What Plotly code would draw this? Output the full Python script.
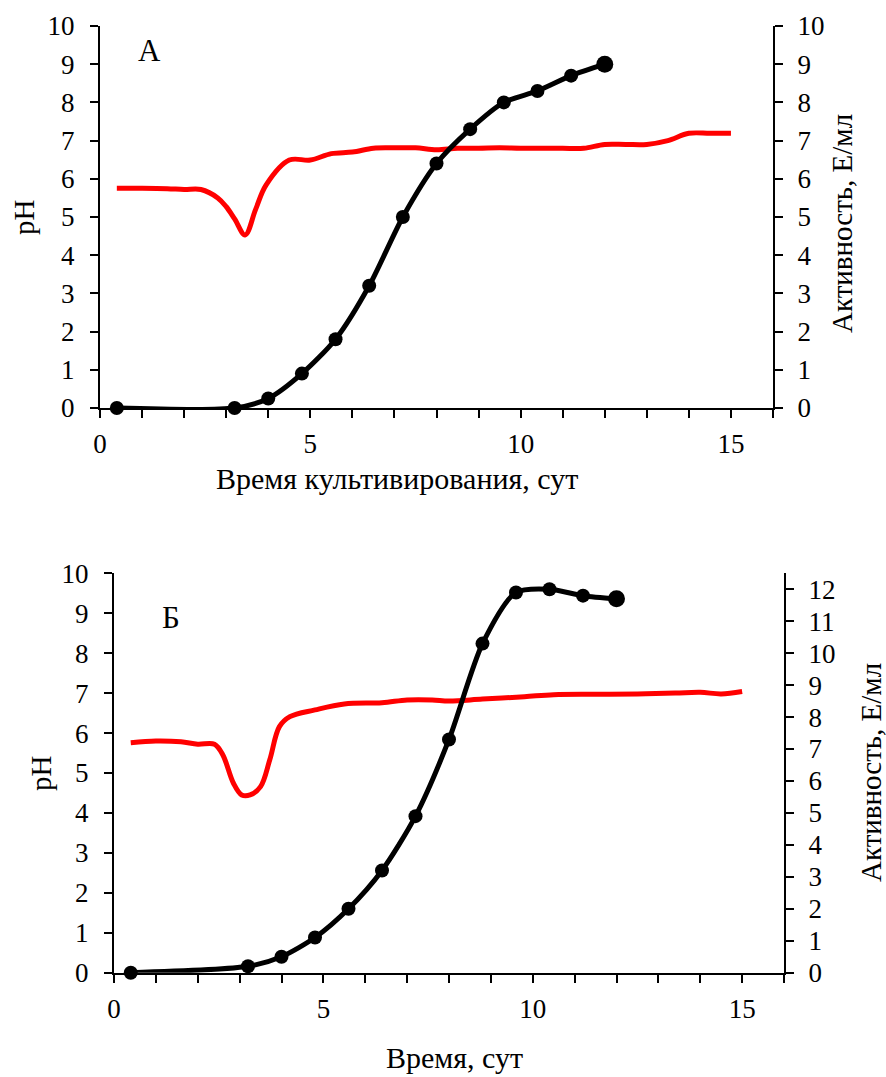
import plotly.graph_objects as go

# ---- Panel A data ----
act_a_x = [0.4, 3.2, 4.0, 4.8, 5.6, 6.4, 7.2, 8.0, 8.8, 9.6, 10.4, 11.2, 12.0]
act_a = [0.0, 0.0, 0.25, 0.9, 1.8, 3.2, 5.0, 6.4, 7.3, 8.0, 8.3, 8.7, 9.0]

ph_a_x = [0.4, 1.0, 1.6, 2.0, 2.4, 2.8, 3.0, 3.2, 3.45, 3.7, 3.95, 4.5, 5.0, 5.5,
          6.0, 6.5, 7.0, 7.5, 8.0, 8.5, 9.0, 9.5, 10.0, 10.5, 11.0, 11.5, 12.0,
          12.5, 13.0, 13.5, 14.0, 14.5, 15.0]
ph_a = [5.75, 5.75, 5.74, 5.72, 5.72, 5.5, 5.27, 4.95, 4.53, 5.2, 5.84, 6.49, 6.49, 6.66,
        6.7, 6.8, 6.81, 6.81, 6.76, 6.8, 6.8, 6.81, 6.8, 6.8, 6.8, 6.8, 6.9,
        6.9, 6.9, 7.0, 7.19, 7.19, 7.19]

# ---- Panel Б data ----
act_b_x = [0.4, 3.2, 4.0, 4.8, 5.6, 6.4, 7.2, 8.0, 8.8, 9.6, 10.4, 11.2, 12.0]
act_b = [0.0, 0.2, 0.5, 1.1, 2.0, 3.2, 4.9, 7.3, 10.3, 11.9, 12.0, 11.8, 11.7]

ph_b_x = [0.4, 1.0, 1.6, 2.0, 2.4, 2.6, 2.85, 3.05, 3.25, 3.5, 3.72, 3.95, 4.2, 4.8,
          5.5, 6.4, 7.0, 7.6, 8.0, 8.8, 9.8, 10.5, 11.5, 12.5, 13.4, 14.0, 14.5, 15.0]
ph_b = [5.76, 5.8, 5.78, 5.72, 5.72, 5.45, 4.75, 4.45, 4.45, 4.66, 5.33, 6.16, 6.41, 6.58,
        6.73, 6.76, 6.83, 6.83, 6.8, 6.85, 6.91, 6.96, 6.97, 6.98, 7.0, 7.02, 6.98, 7.04]

x_ticks = [0, 5, 10, 15]
ph_ticks = list(range(0, 11))
act_a_ticks = list(range(0, 11))
act_b_ticks = list(range(0, 13))

FONT = "Liberation Serif"
W, H = 886, 1077

fig = go.Figure()

red = dict(color="#ff0000", width=5, shape="spline", smoothing=1.0)
blk = dict(color="#000000", width=5, shape="spline", smoothing=0.75)


def marker(n):
    return dict(color="black", opacity=1, line=dict(width=0),
                size=[14] * (n - 1) + [17])


fig.add_trace(go.Scatter(x=ph_a_x, y=ph_a, mode="lines", line=red, xaxis="x", yaxis="y",
                         cliponaxis=False, showlegend=False))
fig.add_trace(go.Scatter(x=act_a_x, y=act_a, mode="lines+markers", line=blk,
                         marker=marker(len(act_a_x)),
                         xaxis="x", yaxis="y2", cliponaxis=False, showlegend=False))
fig.add_trace(go.Scatter(x=ph_b_x, y=ph_b, mode="lines", line=red, xaxis="x2", yaxis="y3",
                         cliponaxis=False, showlegend=False))
fig.add_trace(go.Scatter(x=act_b_x, y=act_b, mode="lines+markers", line=blk,
                         marker=marker(len(act_b_x)),
                         xaxis="x2", yaxis="y4", cliponaxis=False, showlegend=False))

tickfont = dict(family=FONT, size=27, color="black")
common = dict(showline=True, linecolor="black", linewidth=2, ticks="outside", ticklen=8,
              tickwidth=2, tickcolor="black", tickfont=tickfont, showgrid=False,
              zeroline=False, fixedrange=True, automargin=False)

xdom_a = [100 / W, 773 / W]
ydom_a = [1 - 408 / H, 1 - 26 / H]
xdom_b = [114 / W, 784 / W]
ydom_b = [1 - 972.7 / H, 1 - 573.3 / H]

xminor = dict(dtick=1, ticks="outside", ticklen=8, tickwidth=2, tickcolor="black", showgrid=False)
yl = dict(ticklabelstandoff=10)
yr = dict(ticklabelstandoff=9)
xs = dict(ticklabelstandoff=3)

fig.update_layout(
    width=W, height=H,
    margin=dict(l=0, r=0, t=0, b=0),
    paper_bgcolor="white", plot_bgcolor="white",
    font=dict(family=FONT, color="black"),
    xaxis=dict(domain=xdom_a, range=[0, 16], anchor="y", tickvals=x_ticks,
               minor=xminor, **xs, **common),
    yaxis=dict(domain=ydom_a, range=[0, 10], anchor="x", tickvals=ph_ticks, **yl, **common),
    yaxis2=dict(range=[0, 10], anchor="x", overlaying="y", side="right",
                tickvals=act_a_ticks, **yr, **common),
    xaxis2=dict(domain=xdom_b, range=[0, 16], anchor="y3", tickvals=x_ticks,
                minor=xminor, **xs, **common),
    yaxis3=dict(domain=ydom_b, range=[0, 10], anchor="x2", tickvals=ph_ticks, **yl, **common),
    yaxis4=dict(range=[0, 12.5], anchor="x2", overlaying="y3", side="right",
                tickvals=act_b_ticks, **yr, **common),
)

ann = [
    dict(text="А", x=149 / W, y=1 - 50 / H, size=31),
    dict(text="Б", x=171 / W, y=1 - 617 / H, size=31),
    dict(text="Время культивирования, сут", x=397 / W, y=1 - 478 / H, size=30),
    dict(text="Время, сут", x=454 / W, y=1 - 1057 / H, size=30),
    dict(text="pH", x=24 / W, y=1 - 217 / H, textangle=-90, size=29),
    dict(text="pH", x=41 / W, y=1 - 773 / H, textangle=-90, size=29),
    dict(text="Активность, Е/мл", x=842 / W, y=1 - 224 / H, textangle=-90, size=29),
    dict(text="Активность, Е/мл", x=871 / W, y=1 - 773 / H, textangle=-90, size=29),
]
for a in ann:
    s = a.pop("size")
    fig.add_annotation(xref="paper", yref="paper", xanchor="center", yanchor="middle",
                       showarrow=False, font=dict(family=FONT, size=s, color="black"), **a)

fig.write_html("out.html")
